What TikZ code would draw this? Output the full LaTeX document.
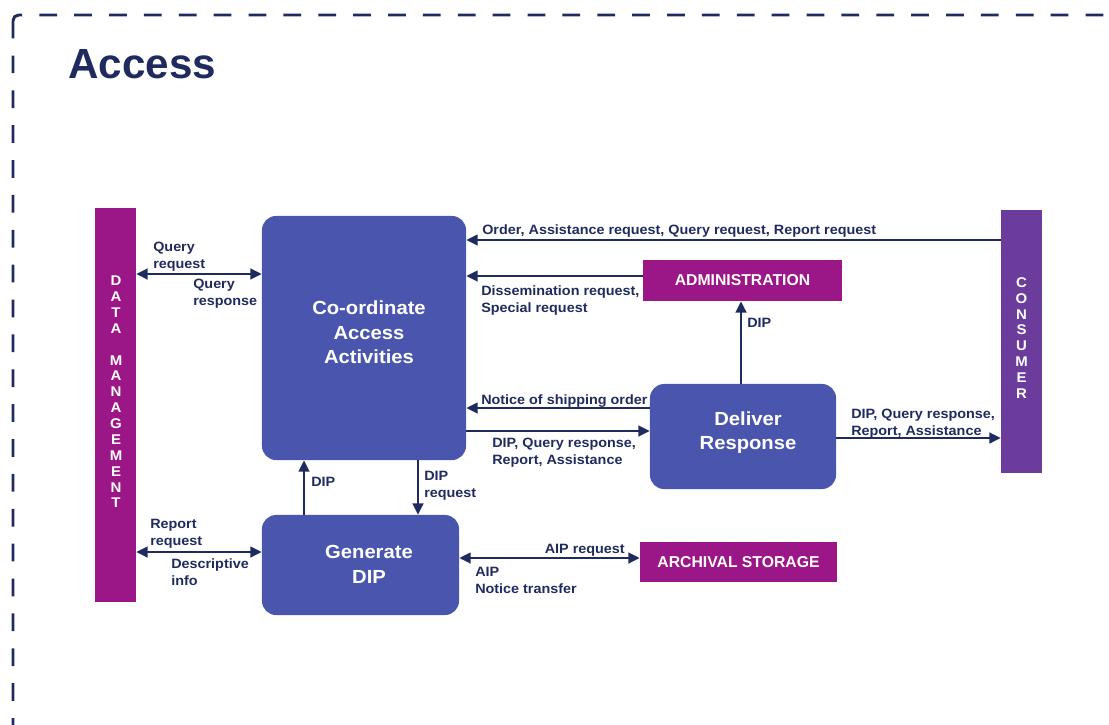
\documentclass[tikz,border=0pt]{standalone}
\usepackage{fontspec}
\setmainfont{Liberation Sans}[FakeStretch=1.065]
\newfontfamily\plainsans{Liberation Sans}
\usetikzlibrary{arrows.meta}
\definecolor{navy}{HTML}{1F2B5E}
\definecolor{procblue}{HTML}{4A56AE}
\definecolor{oaismag}{HTML}{9B1686}
\definecolor{oaispurple}{HTML}{6B3C9C}
\newcommand{\tip}{Triangle[length=8pt,width=7.5pt]}
\tikzset{
  proc/.style={fill=procblue, rounded corners=10pt, inner sep=0pt},
  proctext/.style={text=white, align=center, inner sep=0pt, font=\bfseries\fontsize{13.5}{17.4}\selectfont},
  entity/.style={fill=oaismag, text=white, inner sep=0pt, font=\plainsans\bfseries\fontsize{11.2}{13}\selectfont},
  column/.style={text=white, align=center, inner sep=0pt, font=\bfseries\fontsize{10}{11.28}\selectfont},
  flow/.style={draw=navy, line width=1.8pt, -{\tip}},
  twoway/.style={flow, {\tip}-{\tip}},
  lbl/.style={text=navy, align=left, inner sep=0pt, anchor=north west,
    font=\bfseries\fontsize{9.6}{12.1}\selectfont},
}
\begin{document}
\begin{tikzpicture}[x=0.025cm, y=-0.025cm]
\clip (0,0) rectangle (1109,724);
\draw[navy, line width=2.1pt, dash pattern=on 12.6pt off 12.2pt, rounded corners=4pt] (13,15) rectangle (1160,780);
\node[anchor=north west, inner sep=0pt, text=navy, font=\plainsans\bfseries\fontsize{30}{36}\selectfont] (title) at (68,49) {Access};

\node[fill=oaismag, minimum width=1.025cm, minimum height=9.85cm, inner sep=0pt] (dm) at (115.5,405) {};
\node[column] (dmtxt) at (116,392) {D\\A\\T\\A\\~\\M\\A\\N\\A\\G\\E\\M\\E\\N\\T};
\node[fill=oaispurple, minimum width=1.025cm, minimum height=6.575cm, inner sep=0pt] (consumer) at (1021.5,341.5) {};
\node[column] (contxt) at (1021.5,338) {C\\O\\N\\S\\U\\M\\E\\R};

\node[proc, minimum width=5.1cm, minimum height=6.1cm] (coord) at (364,338) {};
\node[proctext] (coordtxt) at (369,332.5) {Co-ordinate\\Access\\Activities};
\node[proc, minimum width=4.925cm, minimum height=2.5cm] (gen) at (360.5,565) {};
\node[proctext] (gentxt) at (369,564.5) {Generate\\DIP};
\node[proc, minimum width=4.65cm, minimum height=2.625cm] (deliver) at (743,436.5) {};
\node[proctext] (delivertxt) at (748,432.5) {Deliver\\Response};
\node[entity, minimum width=4.975cm, minimum height=1.025cm] (admin) at (742.5,280.5) {ADMINISTRATION};
\node[entity, minimum width=4.925cm, minimum height=1cm] (archive) at (738.5,562) {ARCHIVAL STORAGE};

\draw[flow] (consumer.west |- 0,240) -- (coord.east |- 0,240);
\draw[flow] (admin.west |- 0,276) -- (coord.east |- 0,276);
\draw[twoway] (dm.east |- 0,274) -- (coord.west |- 0,274);
\draw[flow] (deliver.west |- 0,408) -- (coord.east |- 0,408);
\draw[flow] (coord.east |- 0,431) -- (deliver.west |- 0,431);
\draw[flow] (deliver.east |- 0,438) -- (consumer.west |- 0,438);
\draw[flow] (deliver.north -| 741,0) -- (admin.south -| 741,0);
\draw[flow] (gen.north -| 304,0) -- (coord.south -| 304,0);
\draw[flow] (coord.south -| 418,0) -- (gen.north -| 418,0);
\draw[twoway] (dm.east |- 0,552) -- (gen.west |- 0,552);
\draw[twoway] (gen.east |- 0,558) -- (archive.west |- 0,558);

\node[lbl] (lorder) at (482,224) {Order, Assistance request, Query request, Report request};
\node[lbl] (ldissem) at (481,285) {Dissemination request,\\Special request};
\node[lbl] (lqreq) at (153,242) {Query\\request};
\node[lbl] (lqresp) at (193,279) {Query\\response};
\node[lbl] (lnotice) at (481,394) {Notice of shipping order};
\node[lbl] (ldipin) at (492,438) {DIP, Query response,\\Report, Assistance};
\node[lbl] (ldipout) at (851,409) {DIP, Query response,\\Report, Assistance};
\node[lbl] (ldipadm) at (747,318) {DIP};
\node[lbl] (ldipgen) at (311,477) {DIP};
\node[lbl] (ldipreq) at (424,471) {DIP\\request};
\node[lbl] (lrepreq) at (150,519) {Report\\request};
\node[lbl] (ldesc) at (171,558) {Descriptive\\info};
\node[lbl, anchor=north east] (laipreq) at (625,544) {AIP request};
\node[lbl] (laip) at (475,567) {AIP\\Notice transfer};
\end{tikzpicture}
\end{document}
